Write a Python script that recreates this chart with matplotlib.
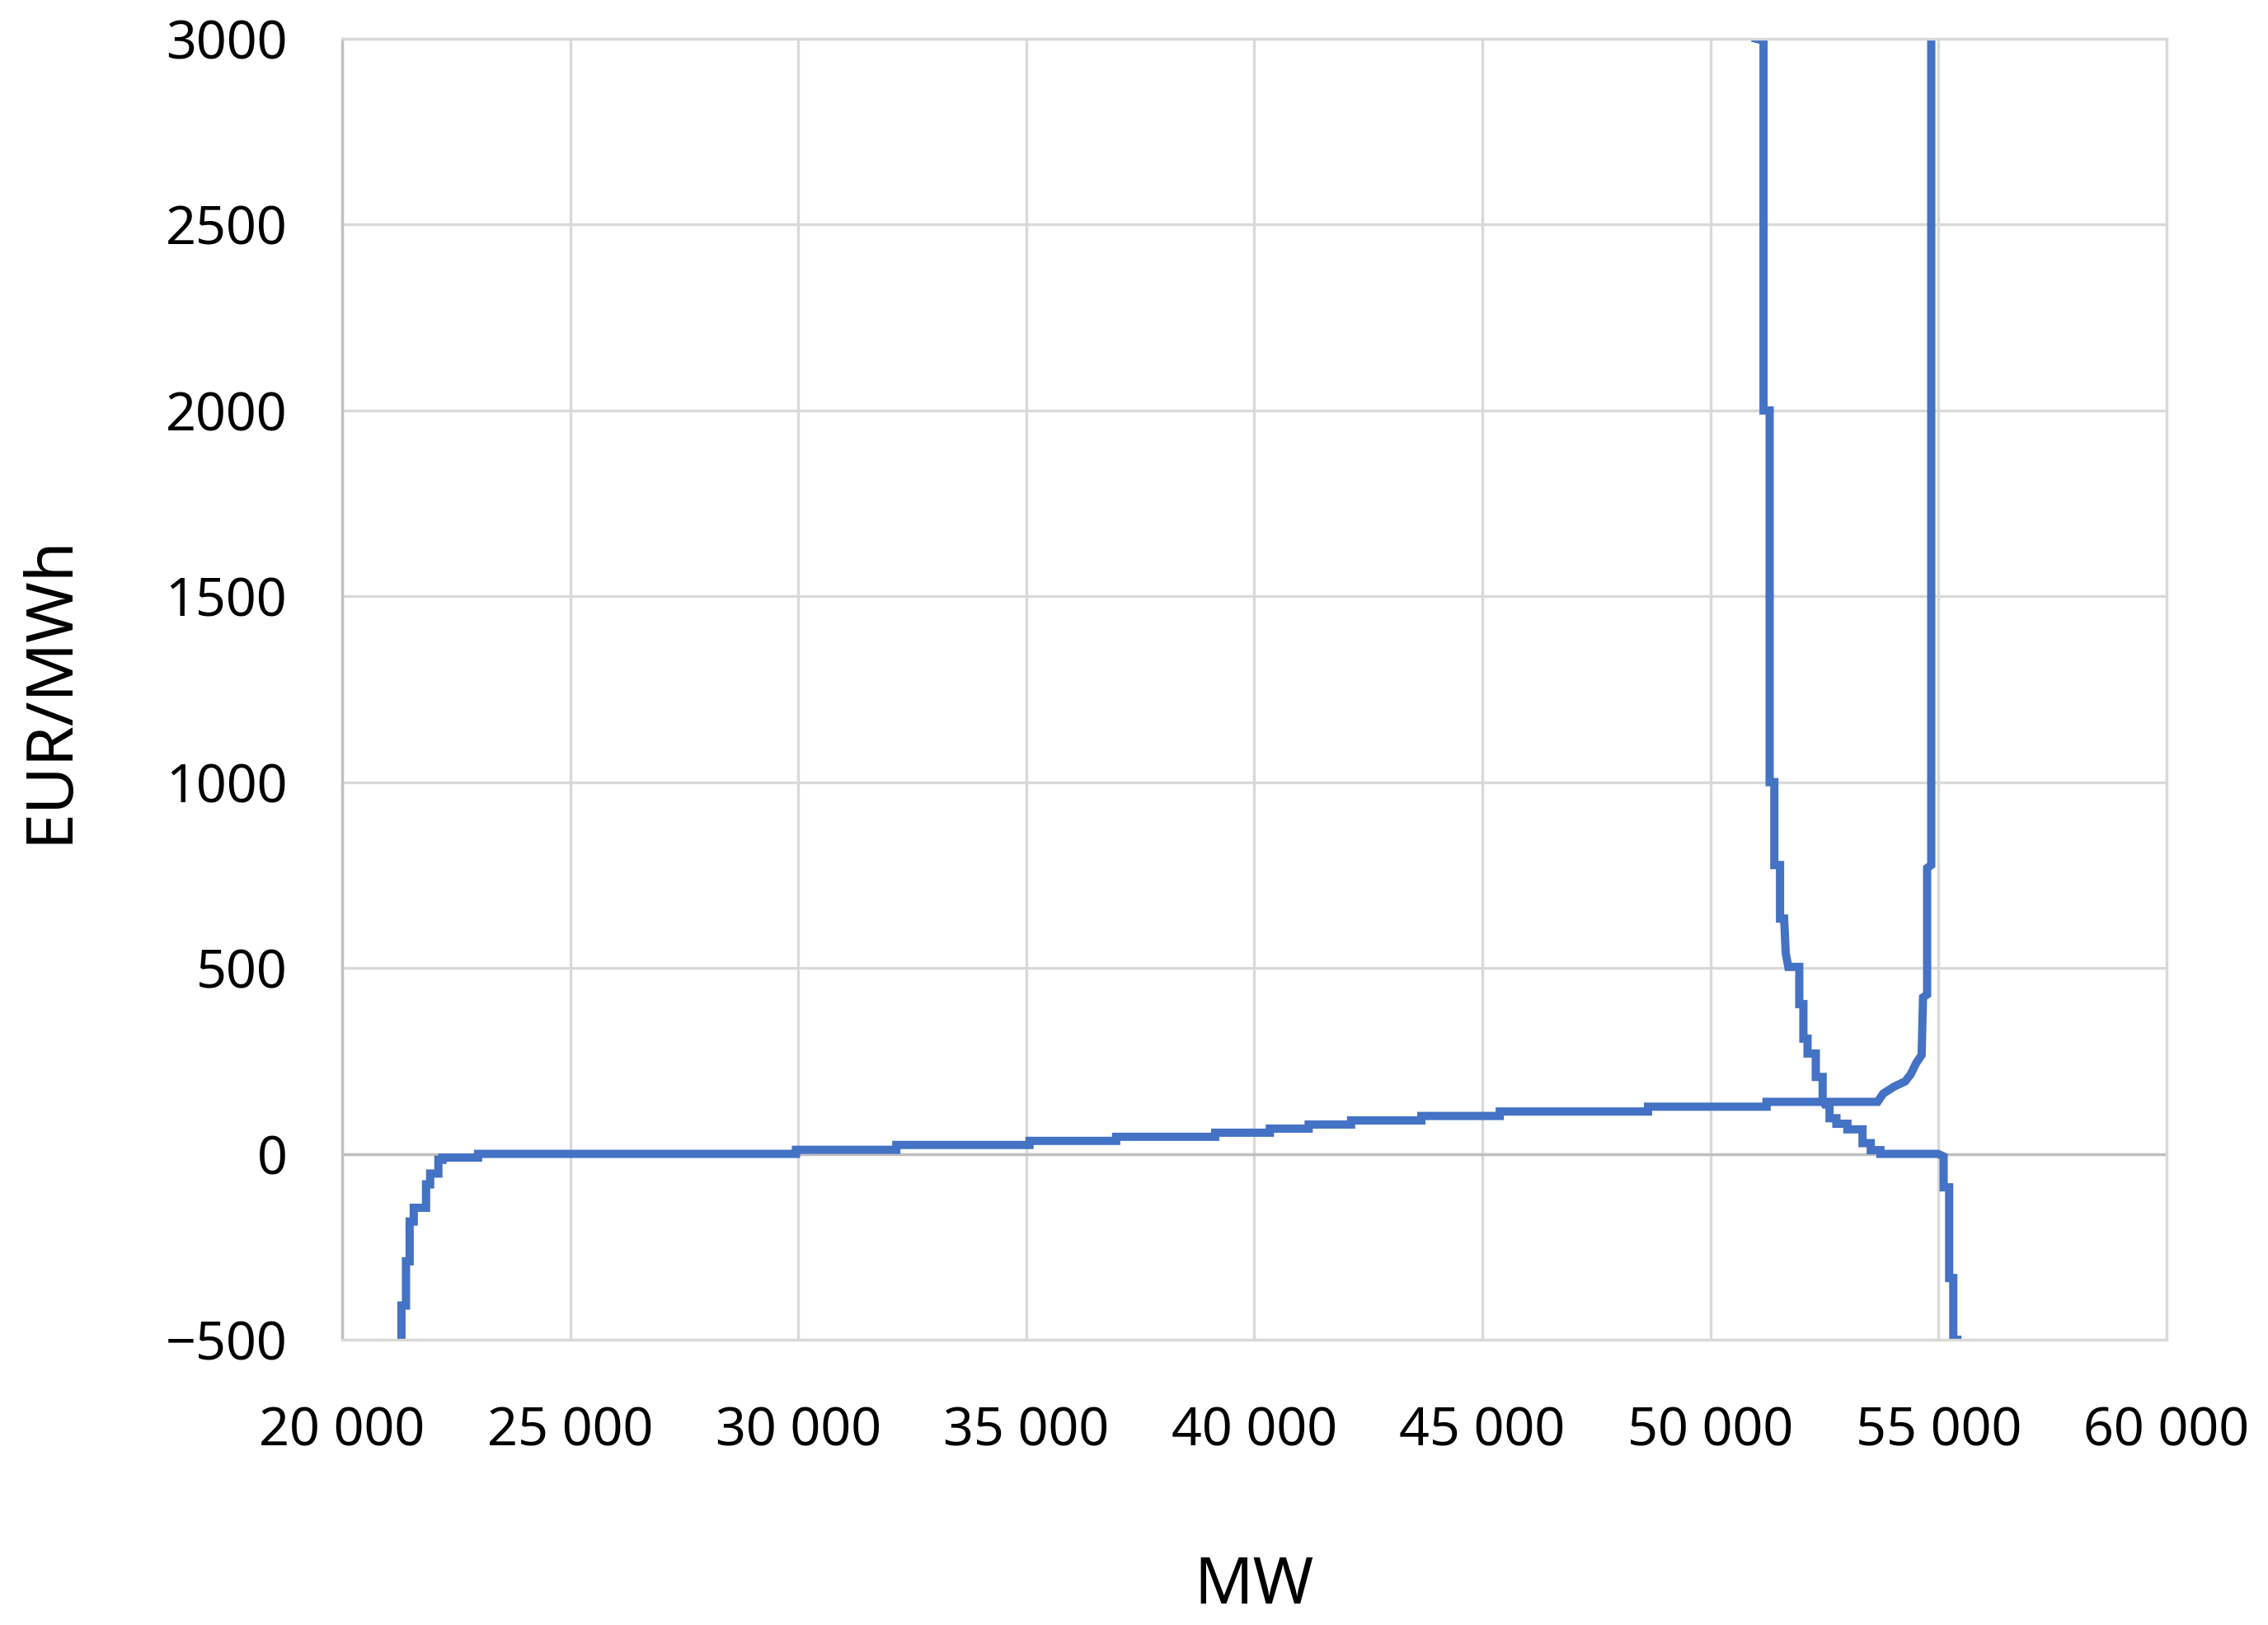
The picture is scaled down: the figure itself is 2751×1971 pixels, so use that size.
import numpy as np
import matplotlib
matplotlib.use('Agg')
import matplotlib.pyplot as plt
from matplotlib.ticker import FuncFormatter

plt.rcParams['font.family'] = ['Noto Sans', 'DejaVu Sans']

# supply curve (MW, EUR/MWh)
supply_mw = [21300, 21300, 21400, 21400, 21480, 21480, 21570, 21570, 21840, 21840,
             21930, 21930, 22110, 22110, 22200, 22200, 22980, 22980, 29950, 29950,
             32150, 32150, 35070, 35070, 36970, 36970, 39140, 39140, 40340, 40340,
             41190, 41190, 42120, 42120, 43660, 43660, 45380, 45380, 48630, 48630,
             51230, 51230, 53665, 53785, 54027, 54268, 54389, 54508, 54629, 54660,
             54750, 54750, 54840, 54840]
supply_price = [-500, -408, -408, -289, -289, -182, -182, -145, -145, -82,
                -82, -53, -53, -16, -16, -10, -10, 0, 0, 11,
                11, 24, 24, 35, 35, 46, 46, 57, 57, 68,
                68, 79, 79, 90, 90, 102, 102, 114, 114, 127,
                127, 140, 140, 162, 181, 195, 214, 244, 266, 421,
                429, 769, 777, 3000]

# demand curve (MW, EUR/MWh)
demand_mw = [51000, 51163, 51163, 51297, 51297, 51400, 51400, 51525, 51525, 51615,
             51650, 51706, 51947, 51947, 52037, 52037, 52128, 52128, 52309, 52309,
             52459, 52459, 52510, 52610, 52610, 52761, 52761, 53002, 53002, 53333,
             53333, 53514, 53514, 53725, 53725, 54991, 55112, 55112, 55233, 55233,
             55323, 55323, 55413]
demand_price = [3000, 2995, 2000, 2000, 1000, 1000, 777, 777, 633, 633,
                540, 503, 503, 403, 403, 310, 310, 270, 270, 207,
                207, 147, 133, 133, 96, 96, 81, 81, 66, 66,
                29, 29, 10, 10, 0, 0, -7, -90, -90, -334,
                -334, -500, -500]

x_ticks = np.arange(20000, 60001, 5000)
y_ticks = np.arange(-500, 3001, 500)

fig = plt.figure(figsize=(2751 / 300, 1971 / 300), dpi=300)
ax = fig.add_axes([415 / 2751, 1 - 1625 / 1971, (2628 - 415) / 2751, (1625 - 47) / 1971])

line_color = '#4472C4'
ax.plot(supply_mw, supply_price, color=line_color, lw=2.4, solid_joinstyle='miter')
ax.plot(demand_mw, demand_price, color=line_color, lw=2.4, solid_joinstyle='miter')

ax.set_xlim(20000, 60000)
ax.set_ylim(-500, 3000)
ax.set_xticks(x_ticks)
ax.set_yticks(y_ticks)
ax.xaxis.set_major_formatter(FuncFormatter(lambda v, p: f'{int(v):,}'.replace(',', ' ')))
ax.yaxis.set_major_formatter(FuncFormatter(lambda v, p: f'{int(v)}'.replace('-', '\u2212')))

ax.grid(True, color='#D9D9D9', lw=0.8, zorder=0)
ax.set_axisbelow(True)
ax.axhline(0, color='#BFBFBF', lw=0.8, zorder=1)

for side in ['top', 'right', 'bottom']:
    ax.spines[side].set_color('#D9D9D9')
    ax.spines[side].set_linewidth(0.8)
ax.spines['left'].set_color('#BFBFBF')
ax.spines['left'].set_linewidth(0.8)

ax.tick_params(length=0, labelsize=15.5, colors='black')
ax.tick_params(axis='x', pad=19)
ax.tick_params(axis='y', pad=16)

ax.set_xlabel('MW', fontsize=19, labelpad=28)
ax.set_ylabel('EUR/MWh', fontsize=19, labelpad=24)

fig.savefig('out.png', dpi=300, facecolor='white')
plt.close()
